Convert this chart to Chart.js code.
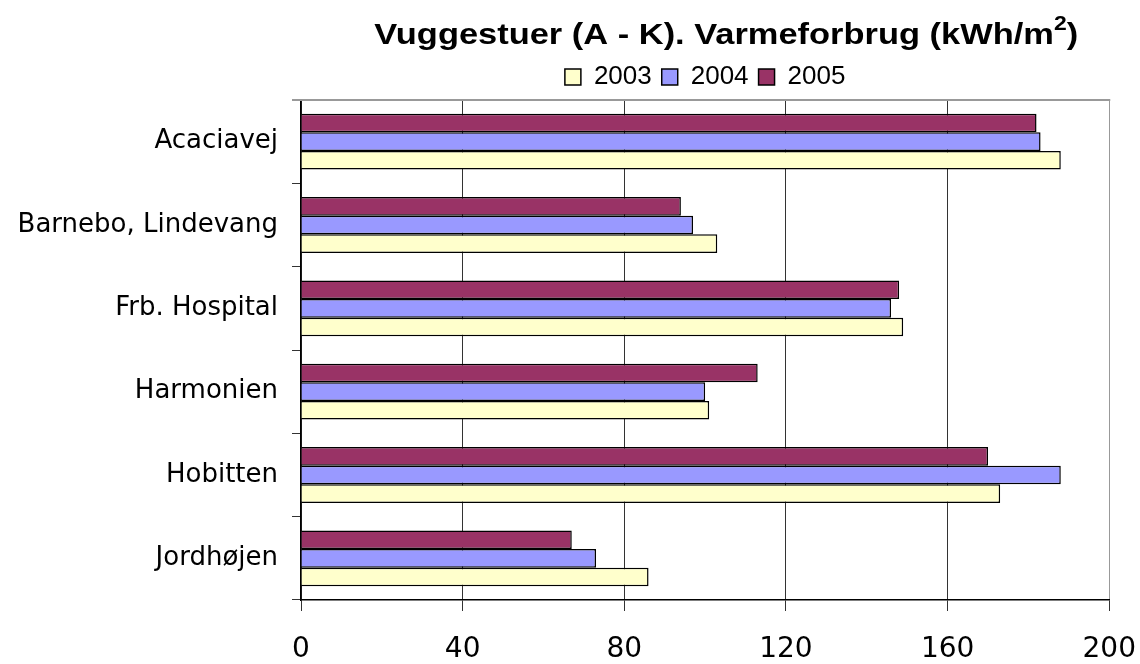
<!DOCTYPE html>
<html>
<head>
<meta charset="utf-8">
<title>Vuggestuer (A - K). Varmeforbrug</title>
<script src="https://cdn.jsdelivr.net/npm/chart.js@4/dist/chart.umd.min.js"></script>
<style>
  html, body { margin: 0; padding: 0; background: #fff; }
  #wrap { width: 1140px; height: 664px; position: relative; }
</style>
</head>
<body>
<div id="wrap"><canvas id="chart"></canvas></div>
<script>
// kategorier (top -> bund)
const categories = ['Acaciavej', 'Barnebo, Lindevang', 'Frb. Hospital', 'Harmonien', 'Hobitten', 'Jordhøjen'];

// varmeforbrug kWh/m2 pr. år
const v2003 = [188, 103, 149, 101, 173, 86];
const v2004 = [183, 97, 146, 100, 188, 73];
const v2005 = [182, 94, 148, 113, 170, 67];

const xTicks = [0, 40, 80, 120, 160, 200];

// titel med hævet 2-tal (tegnes selv, Chart.js kan ikke superscript)
const titlePlugin = {
    id: 'supTitle',
    afterDraw(chart) {
        const ctx = chart.ctx;
        const area = chart.chartArea;
        const main = 'Vuggestuer (A - K). Varmeforbrug (kWh/m';
        const sup = '2';
        const tail = ')';
        const bigFont = 'bold 30px "Liberation Sans", Arial, sans-serif';
        const smallFont = 'bold 20px "Liberation Sans", Arial, sans-serif';
        ctx.save();
        ctx.fillStyle = '#000';
        ctx.textBaseline = 'alphabetic';
        ctx.textAlign = 'left';
        ctx.font = bigFont;
        const w1 = ctx.measureText(main).width;
        const w3 = ctx.measureText(tail).width;
        ctx.font = smallFont;
        const w2 = ctx.measureText(sup).width;
        const total = w1 + w2 + w3;
        // originalen er lidt bredere end fonten, stræk vandret
        const target = 704;
        const sx = target / total;
        const cx = (area.left + area.right) / 2 + 21;
        ctx.translate(cx - target / 2, 0);
        ctx.scale(sx, 1);
        let x = 0;
        const base = 44;
        ctx.font = bigFont;
        ctx.fillText(main, x, base);
        x += w1;
        ctx.font = smallFont;
        ctx.fillText(sup, x, base - 14);
        x += w2;
        ctx.font = bigFont;
        ctx.fillText(tail, x, base);
        ctx.restore();
    }
};

// grå ramme øverst i plotområdet
const framePlugin = {
    id: 'plotFrame',
    beforeDatasetsDraw(chart) {
        const ctx = chart.ctx;
        const a = chart.chartArea;
        ctx.save();
        ctx.strokeStyle = '#999';
        ctx.lineWidth = 2;
        ctx.beginPath();
        ctx.moveTo(a.left - 9, a.top);
        ctx.lineTo(a.right + 1, a.top);
        ctx.stroke();
        ctx.restore();
    }
};

const ctx = document.getElementById('chart').getContext('2d');
const chart = new Chart(ctx, {
    type: 'bar',
    data: {
        labels: categories,
        // 2005 først så den ligger øverst i hver gruppe
        datasets: [
            { label: '2005', data: v2005, backgroundColor: '#993366', borderColor: '#000', borderWidth: 1.5 },
            { label: '2004', data: v2004, backgroundColor: '#9999FF', borderColor: '#000', borderWidth: 1.5 },
            { label: '2003', data: v2003, backgroundColor: '#FFFFCC', borderColor: '#000', borderWidth: 1.5 }
        ]
    },
    options: {
        indexAxis: 'y',
        responsive: true,
        maintainAspectRatio: false,
        animation: false,
        layout: { padding: { top: 54, right: 0, left: 0, bottom: 0 } },
        datasets: {
            bar: { categoryPercentage: 0.67, barPercentage: 1.0 }
        },
        plugins: {
            title: { display: false },
            tooltip: { enabled: false },
            legend: {
                display: true,
                position: 'top',
                fullSize: false,
                reverse: true,
                labels: {
                    boxWidth: 16,
                    boxHeight: 16,
                    padding: 10,
                    color: '#000',
                    font: { family: '"Liberation Sans", Arial, sans-serif', size: 26 }
                }
            }
        },
        scales: {
            x: {
                type: 'linear',
                min: xTicks[0],
                max: xTicks[xTicks.length - 1],
                afterBuildTicks(scale) {
                    scale.ticks = xTicks.map(v => ({ value: v }));
                },
                afterFit(scale) {
                    scale.height = 64;
                },
                ticks: {
                    color: '#000',
                    padding: 4,
                    // høj linjehøjde skubber teksten ned uden at øge højre-padding
                    font: { family: '"DejaVu Sans", Verdana, sans-serif', size: 28, lineHeight: 2.5 }
                },
                grid: {
                    color: c => (c.tick && c.tick.value === 200 ? '#999' : '#333'),
                    tickColor: '#333',
                    tickLength: 11,
                    lineWidth: 1
                },
                border: { color: '#000', width: 1.5 }
            },
            y: {
                type: 'category',
                offset: true,
                afterFit(scale) {
                    scale.width = 301;
                },
                ticks: {
                    color: '#000',
                    padding: 14,
                    font: { family: '"DejaVu Sans", Verdana, sans-serif', size: 26 }
                },
                grid: {
                    offset: true,
                    drawOnChartArea: false,
                    tickLength: 9,
                    color: '#333'
                },
                border: { color: '#000', width: 1.5 }
            }
        }
    },
    plugins: [titlePlugin, framePlugin]
});
</script>
</body>
</html>
